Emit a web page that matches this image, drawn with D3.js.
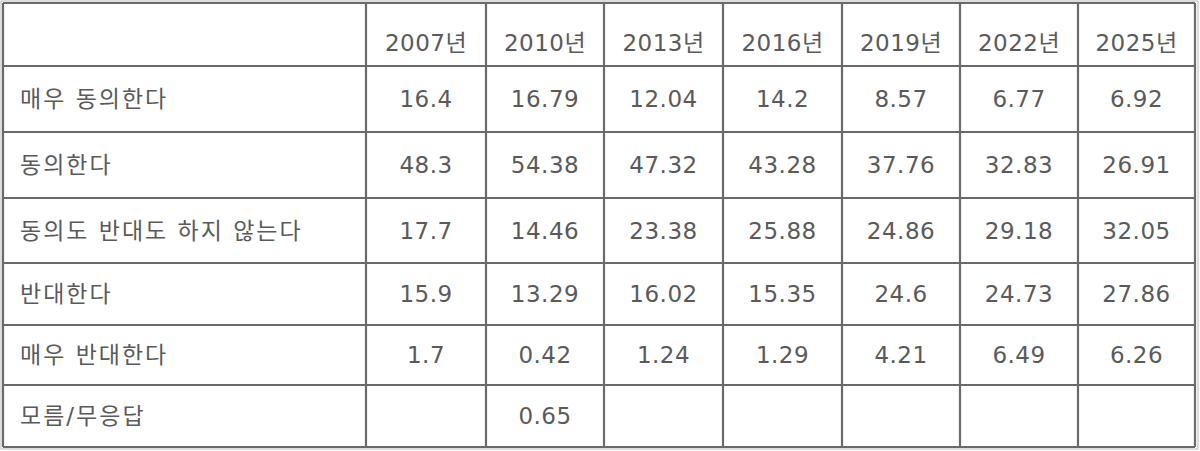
<!DOCTYPE html><html><head><meta charset="utf-8"><script src="https://cdn.jsdelivr.net/npm/d3@7"></script>
<style>body{margin:0;background:#fff}</style></head><body><svg id="c" width="1200" height="451"></svg>
<script>
const years=["2007년","2010년","2013년","2016년","2019년","2022년","2025년"];
const categories=["매우 동의한다","동의한다","동의도 반대도 하지 않는다","반대한다","매우 반대한다","모름/무응답"];
const v2007=["16.4","48.3","17.7","15.9","1.7",""];
const v2010=["16.79","54.38","14.46","13.29","0.42","0.65"];
const v2013=["12.04","47.32","23.38","16.02","1.24",""];
const v2016=["14.2","43.28","25.88","15.35","1.29",""];
const v2019=["8.57","37.76","24.86","24.6","4.21",""];
const v2022=["6.77","32.83","29.18","24.73","6.49",""];
const v2025=["6.92","26.91","32.05","27.86","6.26",""];
const cols=[v2007,v2010,v2013,v2016,v2019,v2022,v2025];
const svg=d3.select("#c");
const rowEdges=[3,66,132,198,263,325,385,447];
const colEdges=[3,366,486,604,723,842,960,1078,1195];
const font="'DejaVu Sans','Noto Sans CJK KR',sans-serif";
const g=svg.append("g");
const stroke="#6a6a6a";
rowEdges.forEach(y=>g.append("line").attr("x1",3).attr("x2",1195).attr("y1",y).attr("y2",y).attr("stroke",stroke).attr("stroke-width",2.2));
colEdges.forEach(x=>g.append("line").attr("x1",x).attr("x2",x).attr("y1",3).attr("y2",447).attr("stroke",stroke).attr("stroke-width",2.2));
g.append("rect").attr("x",1).attr("y",1).attr("width",1197).attr("height",448).attr("fill","none").attr("stroke","#bbb").attr("stroke-width",1);
const txt=(x,y,t,anchor,ls)=>g.append("text").attr("x",x).attr("y",y).attr("text-anchor",anchor).attr("dominant-baseline","central").attr("fill","#5a5a5a").attr("font-family",font).attr("font-size",23).attr("letter-spacing",ls).text(t);
years.forEach((y,i)=>txt((colEdges[i+1]+colEdges[i+2])/2,(rowEdges[0]+rowEdges[1])/2+8,y,"middle",0.5));
categories.forEach((c,r)=>{
 const cy=(rowEdges[r+1]+rowEdges[r+2])/2;
 txt(20,cy,c,"start",2);
 cols.forEach((col,i)=>{ if(col[r]) txt((colEdges[i+1]+colEdges[i+2])/2,cy,col[r],"middle",0.5);});
});
</script></body></html>
